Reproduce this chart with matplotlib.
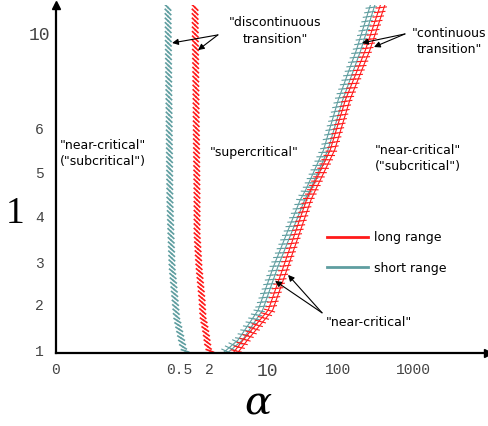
import numpy as np
import matplotlib
matplotlib.use('Agg')
import matplotlib.pyplot as plt
import matplotlib.patheffects as pe
from matplotlib.lines import Line2D

# ---- data (read off the schematic) ----
# left boundaries ("discontinuous transition")
l_left = [0.96, 1.09, 1.39, 1.74, 2.12, 2.88, 3.64, 4.38, 7.18, 11.18]
a_left_short = [0.85, 0.70, 0.55, 0.49, 0.484, 0.472, 0.467, 0.463, 0.459, 0.455]
a_left_long = [2.1, 1.95, 1.85, 1.7, 1.65, 1.5, 1.4, 1.4, 1.35, 1.3]

# right boundaries ("continuous transition")
l_right = [0.96, 1.24, 1.89, 2.89, 4.38, 4.6, 5.5, 7.18, 9.28, 11.18]
a_right_long = [4.1, 5.4, 11, 18, 38, 44, 82, 132, 244, 386]
a_right_short = [3.1, 4.7, 8.2, 13, 31, 37, 66, 106, 185, 284]

xticks = [0, 0.5, 2, 10, 100, 1000]
xticklabels = ['0', '0.5', '2', '10', '100', '1000']
yticks = [1, 2, 3, 4, 5, 6, 10]
yticklabels = ['1', '2', '3', '4', '5', '6', '10']

RED = '#ff1a1a'
TEAL = '#5f9ea0'

# ---- hand-drawn axis: piecewise scales ----
G_ANCH = np.array([0, 0.5, 2, 2.699, 3.699, 4.699, 5.699])
X_ANCH = np.array([56, 179, 209, 267, 338, 413, 488])
L_ANCH = np.array([0.9, 1, 2, 3, 4, 5, 6, 10, 12])
Y_ANCH = np.array([70.4, 75, 121, 164, 209, 254, 298, 393, 440])


def g(a):
    a = np.asarray(a, dtype=float)
    return np.where(a <= 2, a, 2 + np.log10(np.maximum(a, 2) / 2))


def ginv(u):
    u = np.asarray(u, dtype=float)
    return np.where(u <= 2, u, 2 * 10 ** (np.maximum(u, 2) - 2))


def xfwd(a):
    return np.interp(g(a), G_ANCH, X_ANCH)


def xinv(p):
    return ginv(np.interp(p, X_ANCH, G_ANCH))


def yfwd(l):
    return np.interp(l, L_ANCH, Y_ANCH)


def yinv(p):
    return np.interp(p, Y_ANCH, L_ANCH)


fig = plt.figure(figsize=(4.89, 4.26), dpi=100)
ax = fig.add_axes([56 / 489, 73 / 426, 432 / 489, 348 / 426])
ax.set_xscale('function', functions=(xfwd, xinv))
ax.set_yscale('function', functions=(yfwd, yinv))
ax.set_xlim(0, 10000)
ax.set_ylim(yinv(73), yinv(421))

for s in ['top', 'right']:
    ax.spines[s].set_visible(False)
for s in ['left', 'bottom']:
    ax.spines[s].set_linewidth(1.6)
ax.plot(1, 0, '>k', ms=6, transform=ax.transAxes, clip_on=False)
ax.plot(0, 1, '^k', ms=6, transform=ax.transAxes, clip_on=False)

ax.set_xticks(xticks)
ax.set_xticklabels(xticklabels)
ax.set_yticks(yticks)
ax.set_yticklabels(yticklabels)
ax.minorticks_off()
ax.tick_params(length=0, labelcolor='#444444')
ax.tick_params(axis='x', pad=7)
ax.tick_params(axis='y', pad=12)
for t in ax.get_xticklabels() + ax.get_yticklabels():
    t.set_family('Liberation Mono')
    t.set_fontsize(13 if t.get_text() == '10' else 10.5)
for t in ax.get_yticklabels():
    t.set_horizontalalignment('center')

# left hatched boundaries
hatch_left = [pe.TickedStroke(angle=45, spacing=3.2, length=0.85),
              pe.TickedStroke(angle=-135, spacing=3.2, length=0.85)]
ax.plot(a_left_short, l_left, color=TEAL, lw=1.2, path_effects=hatch_left)
ax.plot(a_left_long, l_left, color=RED, lw=1.2, path_effects=hatch_left)

# right stair-like boundaries
hatch_right = [pe.Stroke(offset=(-1.2, 0), linewidth=0.8),
               pe.Stroke(offset=(2.0, 0), linewidth=0.8),
               pe.TickedStroke(angle=115, spacing=3.4, length=1.1, linewidth=0.8),
               pe.TickedStroke(angle=-65, spacing=3.4, length=1.1, linewidth=0.8)]
ax.plot(a_right_short, l_right, color=TEAL, lw=0.8, path_effects=hatch_right)
ax.plot(a_right_long, l_right, color=RED, lw=0.8, path_effects=hatch_right)

# labels
fs = 9
ax.text(0.191, 5.42, '"near-critical"\n("subcritical")', ha='center', va='center',
        fontsize=fs, linespacing=1.35)
ax.text(6.97, 5.45, '"supercritical"', ha='center', va='center', fontsize=fs)
ax.text(1167, 5.31, '"near-critical"\n("subcritical")', ha='center', va='center',
        fontsize=fs, linespacing=1.35)
ax.text(13, 10.08, '"discontinuous\ntransition"', ha='center', va='center',
        fontsize=fs, linespacing=1.35)
ax.text(3020, 9.64, '"continuous\ntransition"', ha='center', va='center',
        fontsize=fs, linespacing=1.35)
ax.text(67.8, 1.63, '"near-critical"', ha='left', va='center', fontsize=fs)

arrow = dict(arrowstyle='-|>', color='black', lw=0.8, mutation_scale=9,
             shrinkA=0, shrinkB=0)
for tail, heads in [((2.56, 9.92), [(0.472, 9.58), (1.45, 9.28)]),
                    ((781, 9.96), [(209, 9.58), (302, 9.41)]),
                    ((59.6, 1.83), [(13, 2.56), (19.8, 2.7)])]:
    for h in heads:
        ax.annotate('', xy=h, xytext=tail, arrowprops=arrow)

handles = [Line2D([], [], color=RED, lw=2), Line2D([], [], color=TEAL, lw=2)]
ax.legend(handles, ['long range', 'short range'], loc='upper left',
          bbox_to_anchor=(0.627, 0.35), frameon=False, fontsize=fs,
          handlelength=3.3, handletextpad=0.5, labelspacing=1.4,
          borderpad=0, borderaxespad=0)

fig.text(15 / 489, 1 - 214 / 426, '1', family='Liberation Serif', fontsize=27,
         ha='center', va='center')
fig.text(258 / 489, 1 - 404 / 426, 'α', family='DejaVu Serif', style='italic',
         fontsize=29, ha='center', va='center')

fig.savefig('out.png', dpi=100)
